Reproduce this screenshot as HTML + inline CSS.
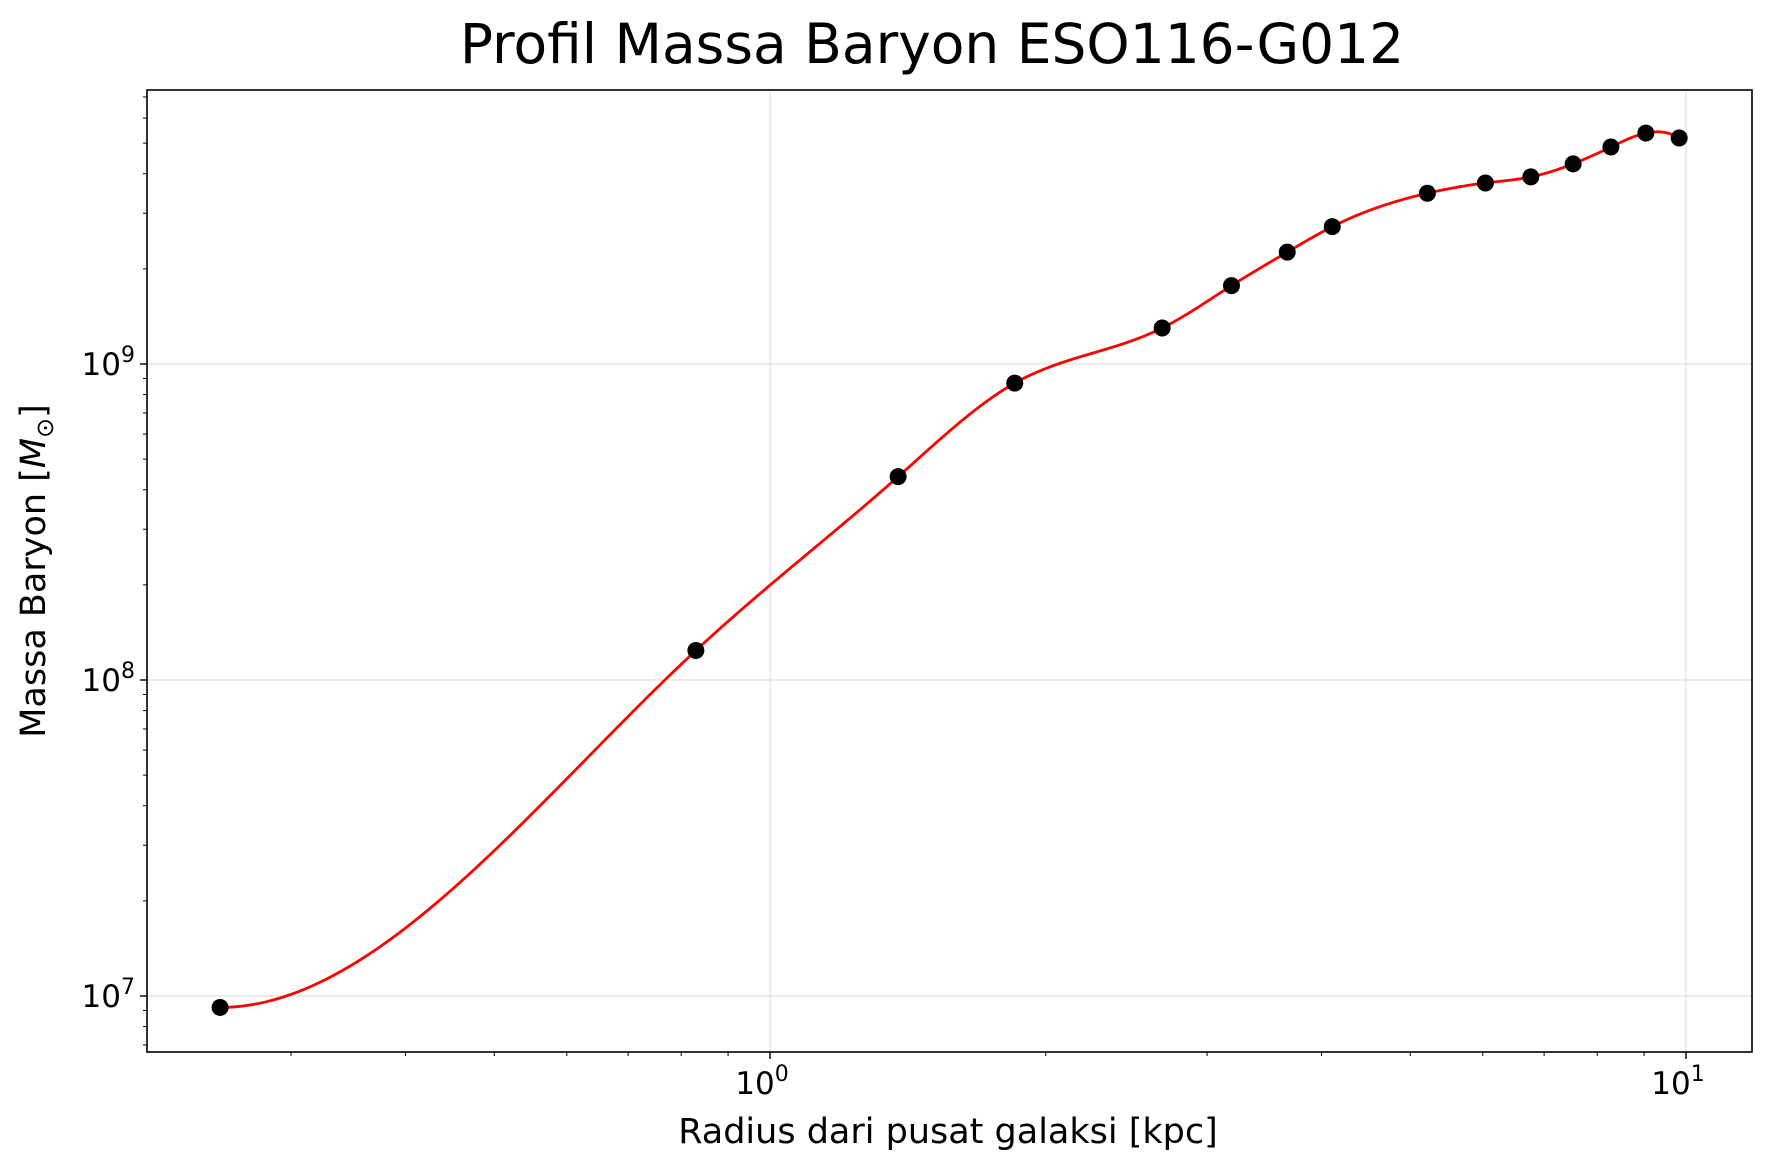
<!DOCTYPE html>
<html><head><meta charset="utf-8"><style>
html,body{margin:0;padding:0;background:#fff;}
svg{display:block;font-family:"DejaVu Sans","Liberation Sans",sans-serif;}
</style></head><body>
<svg id="chart" width="1772" height="1171" viewBox="0 0 1772 1171">
<rect width="1772" height="1171" fill="#fff"/>
<text x="932" y="63" text-anchor="middle" font-size="55">Profil Massa Baryon ESO116-G012</text>
<g id="grid"></g>
<g id="ticks"></g>
<path id="curve" fill="none" stroke="#ff0000" stroke-width="2.8"/>
<g id="points"></g>
<rect x="147" y="90" width="1605" height="962" fill="none" stroke="#000" stroke-width="1.6"/>
<text x="948" y="1143" text-anchor="middle" font-size="35">Radius dari pusat galaksi [kpc]</text>
<text transform="translate(45,571) rotate(-90)" text-anchor="middle" font-size="35">Massa Baryon [<tspan font-style="italic">M</tspan><tspan font-size="24" dy="8">⊙</tspan><tspan dy="-8">]</tspan></text>
</svg>
<script>
const radii=[0.251,0.83,1.38,1.85,2.68,3.19,3.67,4.11,5.22,6.04,6.77,7.53,8.28,9.04,9.83];
const masses=[9.2e6,1.24e8,4.4e8,8.7e8,1.30e9,1.77e9,2.26e9,2.72e9,3.47e9,3.74e9,3.91e9,4.30e9,4.86e9,5.38e9,5.19e9];
const xMajor=[1,10];
const xMajorExp=['0','1'];
const yMajor=[1e7,1e8,1e9];
const yMajorExp=['7','8','9'];
const NS='http://www.w3.org/2000/svg';
const L=147,R=1752,T=90,B=1052;
function xs(v){return 770+916*Math.log10(v);}
function ys(v){return 996-316*(Math.log10(v)-7);}
function mk(tag,attrs,parent){const e=document.createElementNS(NS,tag);for(const k in attrs)e.setAttribute(k,attrs[k]);parent.appendChild(e);return e;}
const grid=document.getElementById('grid'),ticks=document.getElementById('ticks');
xMajor.forEach((v,i)=>{const x=xs(v);
 const g=mk('line',{x1:x,x2:x,y1:T,y2:B,stroke:'#e0e0e0','stroke-width':1.2},grid);
 
 
 const t=mk('line',{x1:x,x2:x,y1:B,y2:B+7,stroke:'#000','stroke-width':1.4},ticks);
 
 
 const tx=mk('text',{x:x-8,y:B+42,'text-anchor':'middle','font-size':31},ticks);
 tx.textContent='10';
 const sp=mk('tspan',{dy:-13,'font-size':22},tx);sp.textContent=xMajorExp[i];
 
 
});
for(let d=-1;d<=1;d++)for(let m=2;m<=9;m++){const v=m*Math.pow(10,d);const x=xs(v);if(x<L||x>R)continue;
 const t=mk('line',{x1:x,x2:x,y1:B,y2:B+4,stroke:'#000','stroke-width':1},ticks);
 
 }
yMajor.forEach((v,i)=>{const y=ys(v);
 const g=mk('line',{x1:L,x2:R,y1:y,y2:y,stroke:'#e0e0e0','stroke-width':1.2},grid);
 
 
 const t=mk('line',{x1:L-7,x2:L,y1:y,y2:y,stroke:'#000','stroke-width':1.4},ticks);
 
 
 const tx=mk('text',{x:L-12,y:y+11,'text-anchor':'end','font-size':31},ticks);
 tx.textContent='10';
 const sp=mk('tspan',{dy:-13,'font-size':22},tx);sp.textContent=yMajorExp[i];
 
 
});
for(let d=6;d<=9;d++)for(let m=2;m<=9;m++){const v=m*Math.pow(10,d);const y=ys(v);if(y<T||y>B)continue;
 const t=mk('line',{x1:L-4,x2:L,y1:y,y2:y,stroke:'#000','stroke-width':1},ticks);
 
 }
// cubic spline in log-log space; zero slope at start, not-a-knot at end
const X=radii.map(Math.log10),Y=masses.map(Math.log10),n=X.length;
const h=[];for(let i=0;i<n-1;i++)h.push(X[i+1]-X[i]);
const A=[],rhs=[];
for(let i=0;i<n;i++){A.push(new Array(n).fill(0));rhs.push(0);}
A[0][0]=2*h[0];A[0][1]=h[0];rhs[0]=6*((Y[1]-Y[0])/h[0]);
for(let i=1;i<n-1;i++){A[i][i-1]=h[i-1];A[i][i]=2*(h[i-1]+h[i]);A[i][i+1]=h[i];
 rhs[i]=6*((Y[i+1]-Y[i])/h[i]-(Y[i]-Y[i-1])/h[i-1]);}
A[n-1][n-3]=h[n-2];A[n-1][n-2]=-(h[n-3]+h[n-2]);A[n-1][n-1]=h[n-3];
for(let k=0;k<n;k++){let p=k;for(let r=k+1;r<n;r++)if(Math.abs(A[r][k])>Math.abs(A[p][k]))p=r;
 [A[k],A[p]]=[A[p],A[k]];[rhs[k],rhs[p]]=[rhs[p],rhs[k]];
 for(let r=k+1;r<n;r++){const f=A[r][k]/A[k][k];if(!f)continue;for(let c=k;c<n;c++)A[r][c]-=f*A[k][c];rhs[r]-=f*rhs[k];}}
const M=new Array(n).fill(0);
for(let k=n-1;k>=0;k--){let s=rhs[k];for(let c=k+1;c<n;c++)s-=A[k][c]*M[c];M[k]=s/A[k][k];}
let p='';
for(let j=0;j<n-1;j++)for(let k=0;k<=80;k++){const bb=k/80,aa=1-bb;
 const yv=aa*Y[j]+bb*Y[j+1]+((aa*aa*aa-aa)*M[j]+(bb*bb*bb-bb)*M[j+1])*h[j]*h[j]/6;
 const px=xs(Math.pow(10,X[j]+bb*h[j])),py=ys(Math.pow(10,yv));p+=(p?'L':'M')+px.toFixed(2)+','+py.toFixed(2);}
document.getElementById('curve').setAttribute('d',p);
const pts=document.getElementById('points');
radii.forEach((r,i)=>{const ci=mk('circle',{cx:xs(r),cy:ys(masses[i]),r:8.5,fill:'#000'},pts);
 
 });
</script>
</body></html>
